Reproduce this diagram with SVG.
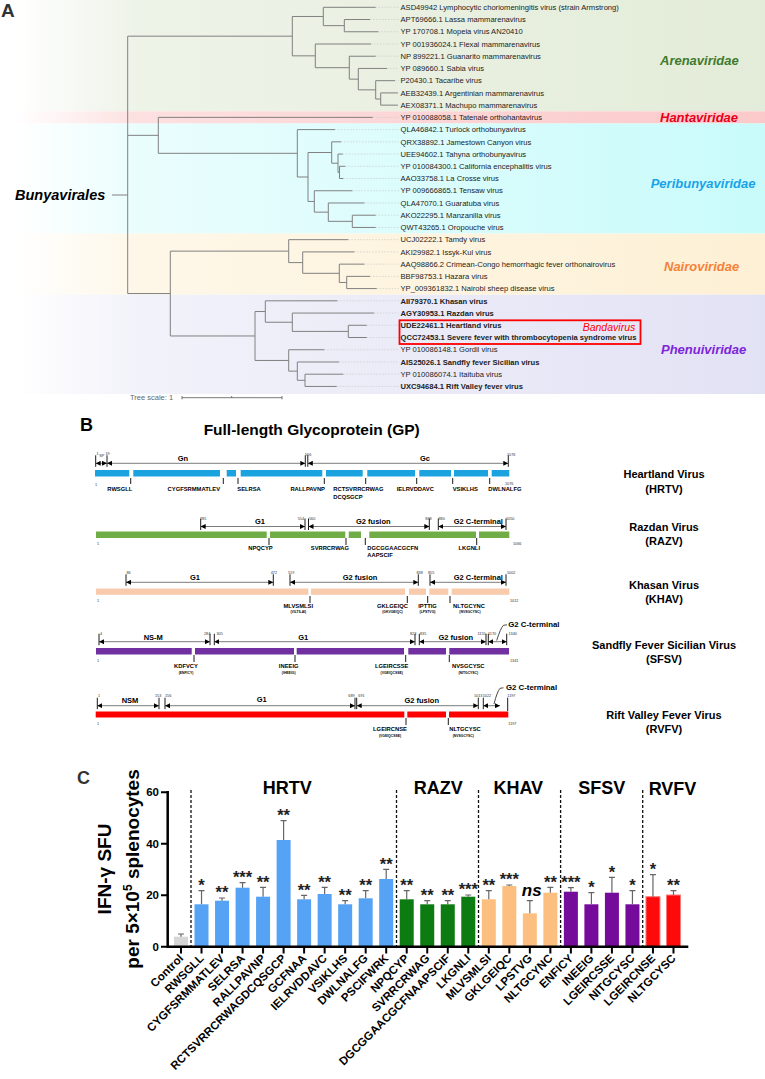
<svg xmlns="http://www.w3.org/2000/svg" width="765" height="1079" viewBox="0 0 765 1079">
<defs>
<style>
text{font-family:"Liberation Sans",Arial,sans-serif}
.lf{font-size:7.6px;fill:#222}
.b{font-weight:bold}
.fam{font-size:13px;font-weight:bold;font-style:italic}
.tree{fill:none;stroke:#808080;stroke-width:1}
.dot{fill:none;stroke:#c4c4c4;stroke-width:0.6;stroke-dasharray:1.5 1.5}
.arr{stroke:#444;stroke-width:0.7;marker-start:url(#ah);marker-end:url(#ah)}
.tk{stroke:#000;stroke-width:0.9}
.num{font-size:3.8px;fill:#333}
.feat{font-size:7.5px;font-weight:bold;text-anchor:middle}
.seq{font-size:5.8px;font-weight:bold}
.sub{font-size:3.4px;font-weight:bold;text-anchor:middle}
.vt{font-size:11px;font-weight:bold;text-anchor:middle}
.star{font-size:16.5px;font-weight:bold;text-anchor:middle;fill:#222}
.xl{font-size:11.5px;font-weight:bold;text-anchor:end}
.err{stroke:#666;stroke-width:1.2;fill:none}
.grp{font-size:18px;font-weight:bold;text-anchor:middle}
.sep{stroke:#111;stroke-width:1.3;stroke-dasharray:3 2}
.hr{fill:#56a3f5}.rz{fill:#0c7c12}.kh{fill:#fcbf80}.sf{fill:#740b9a}.rv{fill:#ff0a0a;stroke:#ff7a7a;stroke-width:1}
</style>
<marker id="ah" viewBox="0 0 6 6" refX="6" refY="3" markerWidth="5" markerHeight="5" markerUnits="userSpaceOnUse" orient="auto-start-reverse"><path d="M0,0 L6,3 L0,6 z" fill="#000"/></marker>
<linearGradient id="gA" x1="0" x2="765" y1="0" y2="0" gradientUnits="userSpaceOnUse"><stop offset="0.02" stop-color="#fff"/><stop offset="0.18" stop-color="#eef3e8"/><stop offset="1" stop-color="#e3ecd8"/></linearGradient>
<linearGradient id="gH" x1="0" x2="765" y1="0" y2="0" gradientUnits="userSpaceOnUse"><stop offset="0.02" stop-color="#fff"/><stop offset="0.18" stop-color="#fde0e0"/><stop offset="1" stop-color="#fbc9ca"/></linearGradient>
<linearGradient id="gP" x1="0" x2="765" y1="0" y2="0" gradientUnits="userSpaceOnUse"><stop offset="0.02" stop-color="#fff"/><stop offset="0.18" stop-color="#eafdfd"/><stop offset="1" stop-color="#c9fbfb"/></linearGradient>
<linearGradient id="gN" x1="0" x2="765" y1="0" y2="0" gradientUnits="userSpaceOnUse"><stop offset="0.02" stop-color="#fff"/><stop offset="0.18" stop-color="#fef7e8"/><stop offset="1" stop-color="#fdf0d5"/></linearGradient>
<linearGradient id="gF" x1="0" x2="765" y1="0" y2="0" gradientUnits="userSpaceOnUse"><stop offset="0.02" stop-color="#fff"/><stop offset="0.18" stop-color="#f2f2fa"/><stop offset="1" stop-color="#e2e2f5"/></linearGradient>
</defs>
<rect width="765" height="1079" fill="#fff"/>

<!-- Panel A -->
<g id="panelA">
<rect x="0" y="0" width="765" height="111.3" fill="url(#gA)"/>
<rect x="0" y="111.3" width="765" height="12.2" fill="url(#gH)"/>
<rect x="0" y="123.5" width="765" height="110.1" fill="url(#gP)"/>
<rect x="0" y="233.6" width="765" height="61.1" fill="url(#gN)"/>
<rect x="0" y="294.7" width="765" height="99.3" fill="url(#gF)"/>
<text x="1" y="17" font-size="19" font-weight="bold" fill="#333">A</text>
<g id="tree">
<path class="dot" d="M375.7,7.3H399M370,19.53H399M378.3,31.76H399M371,43.99H399M375.7,56.22H399M387,68.45H399M395,80.68H399M372.7,117.37H399M335,129.6H399M341,141.83H399M342.7,154.06H399M345.3,166.29H399M343.3,178.52H399M352.3,190.75H399M364.3,202.98H399M375.7,215.21H399M375.7,227.44H399M348.3,239.67H399M354.3,251.9H399M364.3,264.13H399M370,276.36H399M376.7,288.59H399M337.3,300.82H399M374,313.05H399M366.7,325.28H399M366.7,337.51H399M324.3,349.74H399M339,361.97H399M343.3,374.2H399M336.7,386.43H399"/>
<path class="tree" d="M112,195H127.7M127.7,36.16V293.55M127.7,36.16H292.3M127.7,135.33H158.3M127.7,293.55H170.3
M292.3,16.47V55.84M292.3,16.47H323.3M292.3,55.84H315.3
M323.3,7.3V25.65M323.3,7.3H375.7M323.3,25.65H344.3
M344.3,19.53V31.76M344.3,19.53H370M344.3,31.76H378.3
M315.3,43.99V67.69M315.3,43.99H371M315.3,67.69H349.3
M349.3,56.22V79.15M349.3,56.22H375.7M349.3,79.15H358.3
M358.3,68.45V89.85M358.3,68.45H387M358.3,89.85H375.7
M375.7,80.68V99.03M375.7,80.68H395M375.7,99.03H380.7
M380.7,92.91V105.14M380.7,92.91H398M380.7,105.14H398
M158.3,117.37V153.3M158.3,117.37H372.7M158.3,153.3H297.3
M297.3,129.6V176.99M297.3,129.6H335M297.3,176.99H308
M308,152.53V201.45M308,152.53H331.7M308,201.45H314.3
M331.7,141.83V163.23M331.7,141.83H341M331.7,163.23H338
M338,154.06V172.4M338,154.06H342.7M338,172.4H339.5
M339.5,166.29V178.52M339.5,166.29H345.3M339.5,178.52H343.3
M314.3,190.75V212.15M314.3,190.75H352.3M314.3,212.15H328.3
M328.3,202.98V221.33M328.3,202.98H364.3M328.3,221.33H352.3
M352.3,215.21V227.44M352.3,215.21H375.7M352.3,227.44H375.7
M170.3,251.13V335.98M170.3,251.13H288.7M170.3,335.98H255
M288.7,239.67V262.6M288.7,239.67H348.3M288.7,262.6H302.7
M302.7,251.9V273.3M302.7,251.9H354.3M302.7,273.3H339.3
M339.3,264.13V282.47M339.3,264.13H364.3M339.3,282.47H346.7
M346.7,276.36V288.59M346.7,276.36H370M346.7,288.59H376.7
M255,311.52V360.44M255,311.52H265.3M255,360.44H288.7
M265.3,300.82V322.22M265.3,300.82H337.3M265.3,322.22H292.3
M292.3,313.05V331.4M292.3,313.05H374M292.3,331.4H348.3
M348.3,325.28V337.51M348.3,325.28H366.7M348.3,337.51H366.7
M288.7,349.74V371.14M288.7,349.74H324.3M288.7,371.14H297.3
M297.3,361.97V380.31M297.3,361.97H339M297.3,380.31H305
M305,374.2V386.43M305,374.2H343.3M305,386.43H336.7"/>
</g>
<text x="15" y="200" font-size="14.5" font-weight="bold" font-style="italic">Bunyavirales</text>
<g id="leaves" class="lf">
<text x="400.5" y="10">ASD49942 Lymphocytic choriomeningitis virus (strain Armstrong)</text>
<text x="400.5" y="22.23">APT69666.1 Lassa mammarenavirus</text>
<text x="400.5" y="34.46">YP 170708.1 Mopeia virus AN20410</text>
<text x="400.5" y="46.69">YP 001936024.1 Flexal mammarenavirus</text>
<text x="400.5" y="58.92">NP 899221.1 Guanarito mammarenavirus</text>
<text x="400.5" y="71.15">YP 089660.1 Sabia virus</text>
<text x="400.5" y="83.38">P20430.1 Tacaribe virus</text>
<text x="400.5" y="95.61">AEB32439.1 Argentinian mammarenavirus</text>
<text x="400.5" y="107.84">AEX08371.1 Machupo mammarenavirus</text>
<text x="400.5" y="120.07">YP 010088058.1 Tatenale orthohantavirus</text>
<text x="400.5" y="132.3">QLA46842.1 Turlock orthobunyavirus</text>
<text x="400.5" y="144.53">QRX38892.1 Jamestown Canyon virus</text>
<text x="400.5" y="156.76">UEE94602.1 Tahyna orthobunyavirus</text>
<text x="400.5" y="168.99">YP 010084300.1 California encephalitis virus</text>
<text x="400.5" y="181.22">AAO33758.1 La Crosse virus</text>
<text x="400.5" y="193.45">YP 009666865.1 Tensaw virus</text>
<text x="400.5" y="205.68">QLA47070.1 Guaratuba virus</text>
<text x="400.5" y="217.91">AKO22295.1 Manzanilla virus</text>
<text x="400.5" y="230.14">QWT43265.1 Oropouche virus</text>
<text x="400.5" y="242.37">UCJ02222.1 Tamdy virus</text>
<text x="400.5" y="254.6">AKI29982.1 Issyk-Kul virus</text>
<text x="400.5" y="266.83">AAQ98866.2 Crimean-Congo hemorrhagic fever orthonairovirus</text>
<text x="400.5" y="279.06">BBF98753.1 Hazara virus</text>
<text x="400.5" y="291.29">YP_009361832.1 Nairobi sheep disease virus</text>
<text x="400.5" y="303.52" class="b">AII79370.1 Khasan virus</text>
<text x="400.5" y="315.75" class="b">AGY30953.1 Razdan virus</text>
<text x="400.5" y="327.98" class="b">UDE22461.1 Heartland virus</text>
<text x="400.5" y="340.21" class="b">QCC72453.1 Severe fever with thrombocytopenia syndrome virus</text>
<text x="400.5" y="352.44">YP 010086148.1 Gordil virus</text>
<text x="400.5" y="364.67" class="b">AIS25026.1 Sandfly fever Sicilian virus</text>
<text x="400.5" y="376.9">YP 010086074.1 Itaituba virus</text>
<text x="400.5" y="389.13" class="b">UXC94684.1 Rift Valley fever virus</text>
</g>
<g id="families">
<text x="660" y="64.5" class="fam" fill="#3f7a2e">Arenaviridae</text>
<text x="660" y="122" class="fam" fill="#e6001a">Hantaviridae</text>
<text x="650.7" y="187.7" class="fam" fill="#1aa3e8">Peribunyaviridae</text>
<text x="664" y="271" class="fam" fill="#f5823a">Nairoviridae</text>
<text x="661" y="354.3" class="fam" fill="#7d25d9">Phenuiviridae</text>
</g>
<g id="bandavirus">
<rect x="399.5" y="320.3" width="241" height="23.7" fill="none" stroke="#f00" stroke-width="1.8"/>
<text x="582.7" y="331" font-size="10.5" font-style="italic" fill="#f00">Bandavirus</text>
</g>
<g id="scale">
<text x="130" y="400" font-size="7.5" fill="#666">Tree scale: 1</text>
<path d="M182,397.7H282M182,396V399.4M282,396V399.4M231.7,396V397.7" stroke="#555" stroke-width="0.8" fill="none"/>
</g>
</g>

<!-- Panel B -->
<g id="panelB">
<text x="80" y="431" font-size="18" font-weight="bold">B</text>
<text x="311.7" y="435" font-size="15.5" font-weight="bold" text-anchor="middle">Full-length Glycoprotein (GP)</text>

<g id="hrtv-gp">
<path class="tk" d="M95.7,455.3V466.8M107,455.3V466.8M305.3,455.3V466.8M307.8,455.3V466.8M508.3,455.3V466.8"/>
<line class="arr" x1="95.7" y1="463.3" x2="107" y2="463.3"/>
<line class="arr" x1="107" y1="463.3" x2="305.3" y2="463.3"/>
<line class="arr" x1="307.8" y1="463.3" x2="508.3" y2="463.3"/>
<text class="num" x="96.5" y="454.5">1</text><text class="num" x="99.3" y="456.5" font-size="3.2">SP</text><text class="num" x="105.5" y="454.5">19</text>
<text class="num" x="305" y="455.5">566</text><text class="num" x="507" y="455.5">1076</text>
<text class="feat" x="183" y="461">Gn</text><text class="feat" x="425" y="461">Gc</text>
<g fill="#1ba3e0"><rect x="95" y="470" width="34.3" height="6.5"/><rect x="133.3" y="470" width="86.7" height="6.5"/><rect x="226.7" y="470" width="9.3" height="6.5"/><rect x="240.7" y="470" width="81.6" height="6.5"/><rect x="326" y="470" width="36.7" height="6.5"/><rect x="367.3" y="470" width="47.7" height="6.5"/><rect x="419.3" y="470" width="31.7" height="6.5"/><rect x="454" y="470" width="34" height="6.5"/><rect x="491.7" y="470" width="17.6" height="6.5"/></g>
<path class="tk" d="M130.7,478V484M223.3,478V484M238,478V484M324.3,478V484M365.7,478V484M416.7,478V484M452.7,478V484M489.7,478V484"/>
<text class="num" x="95" y="486">1</text><text class="num" x="505" y="485">1076</text>
<g class="seq"><text x="107.3" y="491">RWSGLL</text><text x="220" y="491" text-anchor="end">CYGFSRMMATLEV</text><text x="237.3" y="491">SELRSA</text><text x="325" y="491" text-anchor="end">RALLPAVNP</text><text x="333.3" y="491">RCTSVRRCRWAG</text><text x="333.3" y="499">DCQSGCP</text><text x="396.7" y="491">IELRVDDAVC</text><text x="452.7" y="491">VSIKLHS</text><text x="488.3" y="491">DWLNALFG</text></g>
<text class="vt" x="664" y="478">Heartland Virus</text><text class="vt" x="664" y="492.5">(HRTV)</text>
</g>

<g id="razv-gp">
<path class="tk" d="M200.7,518.5V530M305,518.5V530M308.5,518.5V530M429.3,518.5V530M438.3,518.5V530M506,518.5V530"/>
<line class="arr" x1="200.7" y1="526.5" x2="305" y2="526.5"/>
<line class="arr" x1="308.5" y1="526.5" x2="429.3" y2="526.5"/>
<line class="arr" x1="438.3" y1="526.5" x2="506" y2="526.5"/>
<text class="num" x="200" y="519.5">285</text><text class="num" x="304" y="519.5" text-anchor="end">554</text><text class="num" x="309" y="519.5">560</text><text class="num" x="428.5" y="519.5" text-anchor="middle">868</text><text class="num" x="438.5" y="519.5">880</text><text class="num" x="506" y="519.5">1050</text>
<text class="feat" x="260" y="524">G1</text><text class="feat" x="373.3" y="524">G2 fusion</text><text class="feat" x="478.3" y="524">G2 C-terminal</text>
<g fill="#70ad47"><rect x="96" y="531.5" width="170.7" height="6.5"/><rect x="270" y="531.5" width="75.3" height="6.5"/><rect x="348.7" y="531.5" width="12.3" height="6.5"/><rect x="369.3" y="531.5" width="106.7" height="6.5"/><rect x="479" y="531.5" width="30.3" height="6.5"/></g>
<path class="tk" d="M269,538V545M346,538V545M365.3,538V545M476.7,538V545"/>
<text class="num" x="97" y="545">1</text><text class="num" x="513" y="545">1066</text>
<g class="seq"><text x="272.7" y="550" text-anchor="end">NPQCYP</text><text x="349" y="550" text-anchor="end">SVRRCRWAG</text><text x="367.3" y="550">DGCGGAACGCFN</text><text x="367.3" y="557.3">AAPSCIF</text><text x="480" y="550" text-anchor="end">LKGNLI</text></g>
<text class="vt" x="664" y="531">Razdan Virus</text><text class="vt" x="664" y="545">(RAZV)</text>
</g>

<g id="khav-gp">
<path class="tk" d="M126,574.3V585.8M273.3,574.3V585.8M290,574.3V585.8M418.3,574.3V585.8M430,574.3V585.8M506,574.3V585.8"/>
<line class="arr" x1="126" y1="582.3" x2="273.3" y2="582.3"/>
<line class="arr" x1="290" y1="582.3" x2="418.3" y2="582.3"/>
<line class="arr" x1="430" y1="582.3" x2="506" y2="582.3"/>
<text class="num" x="126.5" y="574">86</text><text class="num" x="270.7" y="574">472</text><text class="num" x="288" y="574">519</text><text class="num" x="416.5" y="574">838</text><text class="num" x="428" y="574">855</text><text class="num" x="507" y="574">1002</text>
<text class="feat" x="195" y="580">G1</text><text class="feat" x="360" y="580">G2 fusion</text><text class="feat" x="478.3" y="580">G2 C-terminal</text>
<g fill="#f8cbad"><rect x="96" y="588.5" width="212.3" height="6.3"/><rect x="311" y="588.5" width="94" height="6.3"/><rect x="409" y="588.5" width="17" height="6.3"/><rect x="429.3" y="588.5" width="19" height="6.3"/><rect x="451.7" y="588.5" width="57.6" height="6.3"/></g>
<path class="tk" d="M310,596V603M407.3,596V603M427.7,596V603M450,596V603"/>
<text class="num" x="97" y="602">1</text><text class="num" x="510" y="602">1012</text>
<g class="seq" text-anchor="middle"><text x="298.3" y="608.3">MLVSMLSI</text><text x="392.5" y="608.3">GKLGEIQC</text><text x="427.5" y="608.3">IPTTIG</text><text x="469" y="608.3">NLTGCYNC</text></g>
<g class="sub"><text x="298.3" y="613.3">(VILTILAI)</text><text x="392.5" y="613.3">(GKVGEIQC)</text><text x="427.5" y="613.3">(LPSTVG)</text><text x="470" y="613.3">(NVSGCYSC)</text></g>
<text class="vt" x="664" y="588.5">Khasan Virus</text><text class="vt" x="664" y="602.5">(KHAV)</text>
</g>

<g id="sfsv-gp">
<path class="tk" d="M99,633.7V645.2M210,633.7V645.2M214.3,633.7V645.2M415,633.7V645.2M419.3,633.7V645.2M486,633.7V645.2M488.3,633.7V645.2M506.7,633.7V645.2"/>
<line class="arr" x1="99" y1="641.7" x2="210" y2="641.7"/>
<line class="arr" x1="214.3" y1="641.7" x2="415" y2="641.7"/>
<line class="arr" x1="419.3" y1="641.7" x2="486" y2="641.7"/>
<line class="arr" x1="488.3" y1="641.7" x2="506.7" y2="641.7"/>
<text class="num" x="100" y="634.5">4</text><text class="num" x="204" y="634.5">284</text><text class="num" x="216.5" y="634.5">305</text><text class="num" x="410" y="634.5">823</text><text class="num" x="420" y="634.5">835</text><text class="num" x="477.5" y="634.5">1155</text><text class="num" x="488" y="634.5">1170</text><text class="num" x="508.5" y="634.5">1340</text>
<text class="feat" x="153.3" y="639.5">NS-M</text><text class="feat" x="303.3" y="639.5">G1</text><text class="feat" x="455.8" y="640">G2 fusion</text>
<path d="M496.7,640.5Q500.5,628 503.5,625.3L507,624.8" fill="none" stroke="#000" stroke-width="0.7"/>
<text x="508.3" y="627" font-size="7.8" font-weight="bold">G2 C-terminal</text>
<g fill="#7030a0"><rect x="96" y="648" width="95.7" height="6.5"/><rect x="195" y="648" width="99" height="6.5"/><rect x="296.7" y="648" width="107.3" height="6.5"/><rect x="408.3" y="648" width="37.7" height="6.5"/><rect x="449.3" y="648" width="59.7" height="6.5"/></g>
<path class="tk" d="M194,655V662M295,655V662M405.7,655V662M449.3,655V662"/>
<text class="num" x="97" y="662">1</text><text class="num" x="510" y="662">1341</text>
<g class="seq" text-anchor="middle"><text x="186" y="668.3">KDFVCY</text><text x="288.7" y="668.3">INEEIG</text><text x="391.7" y="668.3">LGEIRCSSE</text><text x="468.3" y="668.3">NVSGCYSC</text></g>
<g class="sub"><text x="186" y="674">(ENFICY)</text><text x="288.7" y="674">(IHEEIG)</text><text x="391.7" y="674">(VGEIQCSSE)</text><text x="468.3" y="674">(NITGCYSC)</text></g>
<text class="vt" x="664" y="649">Sandfly Fever Sicilian Virus</text><text class="vt" x="664" y="663">(SFSV)</text>
</g>

<g id="rvfv-gp">
<path class="tk" d="M97.3,697.7V709.2M159,697.7V709.2M165,697.7V709.2M355,697.7V709.2M356.7,697.7V709.2M478.3,697.7V709.2M483.3,697.7V709.2M507.7,697.7V711"/>
<line class="arr" x1="97.3" y1="705.7" x2="159" y2="705.7"/>
<line class="arr" x1="165" y1="705.7" x2="355" y2="705.7"/>
<line class="arr" x1="356.7" y1="705.7" x2="478.3" y2="705.7"/>
<line class="arr" x1="483.3" y1="705.7" x2="500" y2="705.7"/>
<text class="num" x="98" y="696.5">1</text><text class="num" x="155" y="696.5">153</text><text class="num" x="165" y="696.5">156</text><text class="num" x="348.3" y="696.5">689</text><text class="num" x="358.3" y="696.5">691</text><text class="num" x="474" y="696.5">1013</text><text class="num" x="482.7" y="696.5">1022</text><text class="num" x="507.3" y="696.5">1197</text>
<text class="feat" x="130" y="703">NSM</text><text class="feat" x="261.7" y="702">G1</text><text class="feat" x="421.7" y="703">G2 fusion</text>
<path d="M494,704Q497,692 500,688.3L503.5,687.8" fill="none" stroke="#000" stroke-width="0.7"/>
<text x="506" y="689.5" font-size="7.8" font-weight="bold">G2 C-terminal</text>
<g fill="#ff0000"><rect x="95.7" y="711.5" width="308.6" height="6"/><rect x="407.3" y="711.5" width="38.7" height="6"/><rect x="449" y="711.5" width="59.3" height="6"/></g>
<path class="tk" d="M406,718V725M448.3,718V725"/>
<text class="num" x="97" y="725">1</text><text class="num" x="508.3" y="725">1197</text>
<g class="seq" text-anchor="middle"><text x="390" y="731">LGEIRCNSE</text><text x="465" y="731">NLTGCYSC</text></g>
<g class="sub"><text x="390" y="736.7">(VGEIQCSSE)</text><text x="463.3" y="736.7">(NVSGCYSC)</text></g>
<text class="vt" x="664" y="718.5">Rift Valley Fever Virus</text><text class="vt" x="664" y="732.5">(RVFV)</text>
</g>
</g>

<!-- Panel C -->
<g id="panelC">
<text x="77" y="784" font-size="18" font-weight="bold" fill="#333">C</text>
<text transform="translate(111,869) rotate(-90)" font-size="19" font-weight="bold" text-anchor="middle">IFN-γ SFU</text>
<text transform="translate(139,869) rotate(-90)" font-size="19" font-weight="bold" text-anchor="middle">per 5×10<tspan font-size="12" dy="-7">5</tspan><tspan dy="7"> splenocytes</tspan></text>
<g id="groups">
<text class="grp" x="287.3" y="794">HRTV</text><text class="grp" x="438.3" y="794">RAZV</text><text class="grp" x="518.3" y="794">KHAV</text><text class="grp" x="601.7" y="794">SFSV</text><text class="grp" x="672.5" y="795">RVFV</text>
</g>
<path class="sep" d="M191,790V946M396.5,790V946M478.5,790V946M560.6,790V946M642.7,790V946"/>
<g id="bars">
<rect x="174" y="936.7" width="14" height="10" fill="#d6d6d6"/>
<g class="hr">
<rect x="194.52" y="904.3" width="14" height="42.4"/><rect x="215.04" y="900.7" width="14" height="46"/><rect x="235.56" y="887.7" width="14" height="59"/><rect x="256.08" y="896.7" width="14" height="50"/><rect x="276.6" y="840" width="14" height="106.7"/><rect x="297.12" y="899.3" width="14" height="47.4"/><rect x="317.64" y="894" width="14" height="52.7"/><rect x="338.16" y="904.3" width="14" height="42.4"/><rect x="358.68" y="898.3" width="14" height="48.4"/><rect x="379.2" y="879" width="14" height="67.7"/>
</g>
<g class="rz"><rect x="399.72" y="899.3" width="14" height="47.4"/><rect x="420.24" y="904.3" width="14" height="42.4"/><rect x="440.76" y="904.3" width="14" height="42.4"/><rect x="461.28" y="896.7" width="14" height="50"/></g>
<g class="kh"><rect x="481.8" y="899.3" width="14" height="47.4"/><rect x="502.32" y="886" width="14" height="60.7"/><rect x="522.84" y="913.3" width="14" height="33.4"/><rect x="543.36" y="892.7" width="14" height="54"/></g>
<g class="sf"><rect x="563.88" y="891.7" width="14" height="55"/><rect x="584.4" y="904.3" width="14" height="42.4"/><rect x="604.92" y="892.7" width="14" height="54"/><rect x="625.44" y="904.3" width="14" height="42.4"/></g>
<g class="rv"><rect x="645.96" y="896.7" width="14" height="50"/><rect x="666.48" y="895" width="14" height="51.7"/></g>
</g>
<path class="err" d="M181,936.7V934M178,934H184
M201.52,904.3V890.7M198.52,890.7H204.52
M222.04,900.7V898M219.04,898H225.04
M242.56,887.7V882.7M239.56,882.7H245.56
M263.08,896.7V887.3M260.08,887.3H266.08
M283.6,840V820.7M280.6,820.7H286.6
M304.12,899.3V895.3M301.12,895.3H307.12
M324.64,894V887.3M321.64,887.3H327.64
M345.16,904.3V900.7M342.16,900.7H348.16
M365.68,898.3V890.7M362.68,890.7H368.68
M386.2,879V869.3M383.2,869.3H389.2
M406.72,899.3V890.7M403.72,890.7H409.72
M427.24,904.3V900.7M424.24,900.7H430.24
M447.76,904.3V900.7M444.76,900.7H450.76
M468.28,896.7V895M465.28,895H471.28
M488.8,899.3V890.7M485.8,890.7H491.8
M509.32,886V885M506.32,885H512.32
M529.84,913.3V900.7M526.84,900.7H532.84
M550.36,892.7V887.3M547.36,887.3H553.36
M570.88,891.7V887.7M567.88,887.7H573.88
M591.4,904.3V892.7M588.4,892.7H594.4
M611.92,892.7V877.3M608.92,877.3H614.92
M632.44,904.3V890.7M629.44,890.7H635.44
M652.96,896.7V874.7M649.96,874.7H655.96
M673.48,895V890.7M670.48,890.7H676.48"/>
<g id="stars" class="star">
<text x="201.5" y="891">*</text><text x="222" y="898">**</text><text x="242.6" y="883">***</text><text x="263.1" y="887.5">**</text><text x="283.6" y="821">**</text><text x="304.1" y="895.5">**</text><text x="324.6" y="887.5">**</text><text x="345.2" y="900.5">**</text><text x="365.7" y="891">**</text><text x="386.2" y="869.5">**</text>
<text x="406.7" y="891">**</text><text x="427.2" y="900.5">**</text><text x="447.8" y="900.5">**</text><text x="468.3" y="895">***</text>
<text x="488.8" y="891">**</text><text x="509.3" y="885">***</text><text x="550.4" y="887.5">**</text>
<text x="570.9" y="888">***</text><text x="591.4" y="893">*</text><text x="611.9" y="877.5">*</text><text x="632.4" y="891">*</text>
<text x="653" y="875">*</text><text x="673.5" y="891">**</text>
</g>
<text x="531.7" y="896" font-size="17" font-weight="bold" font-style="italic" text-anchor="middle">ns</text>
<g id="axes" stroke="#000" fill="none">
<path d="M167.7,791V948M166.5,946.7H688.3" stroke-width="2.5"/>
<path d="M161,792.2H167.7M161,843.7H167.7M161,895.2H167.7M161,946.7H167.7" stroke-width="2"/>
<path d="M181,946.7V953.5M201.52,946.7V953.5M222.04,946.7V953.5M242.56,946.7V953.5M263.08,946.7V953.5M283.6,946.7V953.5M304.12,946.7V953.5M324.64,946.7V953.5M345.16,946.7V953.5M365.68,946.7V953.5M386.2,946.7V953.5M406.72,946.7V953.5M427.24,946.7V953.5M447.76,946.7V953.5M468.28,946.7V953.5M488.8,946.7V953.5M509.32,946.7V953.5M529.84,946.7V953.5M550.36,946.7V953.5M570.88,946.7V953.5M591.4,946.7V953.5M611.92,946.7V953.5M632.44,946.7V953.5M652.96,946.7V953.5M673.48,946.7V953.5" stroke-width="2"/>
</g>
<g font-size="11.5" font-weight="bold" text-anchor="end">
<text x="159" y="796.2">60</text><text x="159" y="847.7">40</text><text x="159" y="899.2">20</text><text x="159" y="950.7">0</text>
</g>
<g id="xlabels" class="xl">
<text transform="translate(184,959) rotate(-45)">Control</text>
<text transform="translate(204.52,959) rotate(-45)">RWSGLL</text>
<text transform="translate(225.04,959) rotate(-45)">CYGFSRMMATLEV</text>
<text transform="translate(245.56,959) rotate(-45)">SELRSA</text>
<text transform="translate(266.08,959) rotate(-45)">RALLPAVNP</text>
<text transform="translate(286.6,959) rotate(-45)">RCTSVRRCRWAGDCQSGCP</text>
<text transform="translate(307.12,959) rotate(-45)">GCFNAA</text>
<text transform="translate(327.64,959) rotate(-45)">IELRVDDAVC</text>
<text transform="translate(348.16,959) rotate(-45)">VSIKLHS</text>
<text transform="translate(368.68,959) rotate(-45)">DWLNALFG</text>
<text transform="translate(389.2,959) rotate(-45)">PSCIFWRK</text>
<text transform="translate(409.72,959) rotate(-45)">NPQCYP</text>
<text transform="translate(430.24,959) rotate(-45)">SVRRCRWAG</text>
<text transform="translate(450.76,959) rotate(-45)">DGCGGAACGCFNAAPSCIF</text>
<text transform="translate(471.28,959) rotate(-45)">LKGNLI</text>
<text transform="translate(491.8,959) rotate(-45)">MLVSMLSI</text>
<text transform="translate(512.32,959) rotate(-45)">GKLGEIQC</text>
<text transform="translate(532.84,959) rotate(-45)">LPSTVG</text>
<text transform="translate(553.36,959) rotate(-45)">NLTGCYNC</text>
<text transform="translate(573.88,959) rotate(-45)">ENFICY</text>
<text transform="translate(594.4,959) rotate(-45)">INEEIG</text>
<text transform="translate(614.92,959) rotate(-45)">LGEIRCSSE</text>
<text transform="translate(635.44,959) rotate(-45)">NITGCYSC</text>
<text transform="translate(655.96,959) rotate(-45)">LGEIRCNSE</text>
<text transform="translate(676.48,959) rotate(-45)">NLTGCYSC</text>
</g>
</g>
</svg>
